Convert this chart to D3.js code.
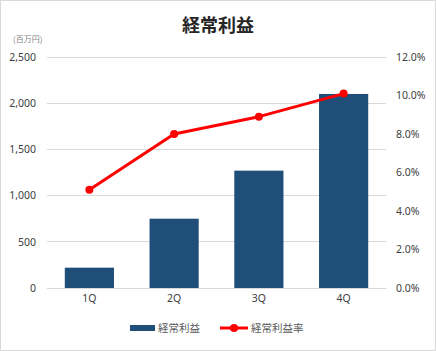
<!DOCTYPE html>
<html><head><meta charset="utf-8">
<script src="https://cdn.jsdelivr.net/npm/d3@7"></script>
<style>
html,body{margin:0;padding:0;background:#fff;}
svg{display:block;font-family:"Noto Sans CJK JP","Noto Sans",sans-serif;}
</style></head>
<body><svg id="c" width="436" height="351"></svg>
<script>
const categories = ["1Q","2Q","3Q","4Q"];
const profit = [220, 750, 1270, 2100];
const margin = [5.1, 8.0, 8.9, 10.1];
const leftTicks = [0,500,1000,1500,2000,2500];
const rightTicks = [0,2,4,6,8,10,12];
const title = "経常利益";
const unitLabel = "(百万円)";
const legendBar = "経常利益";
const legendLine = "経常利益率";

const svg = d3.select("#c");
const W = 436, H = 351;
const plot = {l:47, r:386, t:57, b:288};

svg.append("rect").attr("x",0.5).attr("y",0.5).attr("width",W-1).attr("height",H-1)
  .attr("fill","#fff").attr("stroke","#d9d9d9");

const x = d3.scaleBand().domain(categories).range([plot.l, plot.r]).paddingInner(0.42).paddingOuter(0.21);
const y = d3.scaleLinear().domain([0,2500]).range([plot.b, plot.t]);
const y2 = d3.scaleLinear().domain([0,12]).range([plot.b, plot.t]);

// gridlines
svg.append("g").selectAll("line").data(leftTicks).join("line")
  .attr("x1",plot.l).attr("x2",plot.r)
  .attr("y1",d=>y(d)).attr("y2",d=>y(d))
  .attr("stroke","#d9d9d9").attr("stroke-width",1).attr("shape-rendering","crispEdges");

// left axis
const la = svg.append("g").attr("transform",`translate(${plot.l},0)`)
  .call(d3.axisLeft(y).tickValues(leftTicks).tickFormat(d3.format(",")).tickSize(0).tickPadding(11));
la.select(".domain").remove();
la.selectAll("text").attr("fill","#404040").style("font-size","10.5px").style("font-family","'Noto Sans','DejaVu Sans',sans-serif");

// right axis
const ra = svg.append("g").attr("transform",`translate(${plot.r},0)`)
  .call(d3.axisRight(y2).tickValues(rightTicks).tickFormat(d=>d3.format(".1f")(d)+"%").tickSize(0).tickPadding(10));
ra.select(".domain").remove();
ra.selectAll("text").attr("fill","#404040").style("font-size","10.5px").style("font-family","'Noto Sans','DejaVu Sans',sans-serif");

// bars
svg.append("g").selectAll("rect").data(categories).join("rect")
  .attr("x",d=>x(d)).attr("width",x.bandwidth())
  .attr("y",(d,i)=>y(profit[i])).attr("height",(d,i)=>y(0)-y(profit[i]))
  .attr("fill","#1f4e79");

// x axis labels
const xa = svg.append("g").attr("transform",`translate(0,${plot.b})`)
  .call(d3.axisBottom(x).tickSize(0).tickPadding(7));
xa.select(".domain").attr("stroke","#d9d9d9");
xa.selectAll("text").attr("fill","#404040").style("font-size","10.5px").style("font-family","'Noto Sans','DejaVu Sans',sans-serif");

// line
const pts = categories.map((c,i)=>[x(c)+x.bandwidth()/2, y2(margin[i])]);
svg.append("path").attr("d",d3.line()(pts)).attr("fill","none").attr("stroke","#ff0000").attr("stroke-width",3).attr("stroke-linejoin","round");
svg.append("g").selectAll("circle").data(pts).join("circle")
  .attr("cx",d=>d[0]).attr("cy",d=>d[1]).attr("r",4).attr("fill","#ff0000");

// title
svg.append("text").attr("x",218).attr("y",32).attr("text-anchor","middle")
  .attr("fill","#262626").style("font-size","18px").style("font-weight","bold").text(title);
svg.append("text").attr("x",13).attr("y",42)
  .attr("fill","#7f7f7f").style("font-size","8px").text(unitLabel);

// legend
const ly = 328;
svg.append("rect").attr("x",130).attr("y",ly-3).attr("width",25).attr("height",6).attr("fill","#1f4e79");
svg.append("text").attr("x",158).attr("y",ly+4).attr("fill","#595959").style("font-size","10.5px").text(legendBar);
svg.append("line").attr("x1",220).attr("x2",248).attr("y1",ly).attr("y2",ly).attr("stroke","#ff0000").attr("stroke-width",3);
svg.append("circle").attr("cx",234).attr("cy",ly).attr("r",4).attr("fill","#ff0000");
svg.append("text").attr("x",251).attr("y",ly+4).attr("fill","#595959").style("font-size","10.5px").text(legendLine);
</script></body></html>
